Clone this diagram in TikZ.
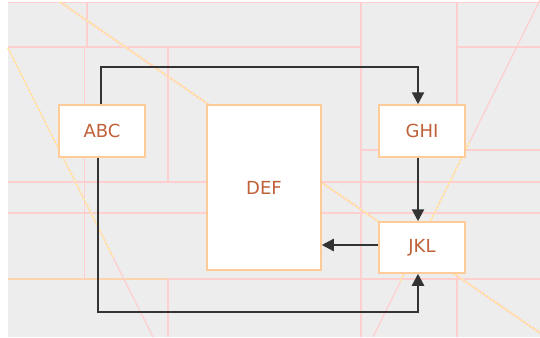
\documentclass[tikz,border=0pt]{standalone}
\usepackage{fontspec}
\setmainfont{DejaVu Sans}
\usetikzlibrary{arrows.meta}
\definecolor{bg}{HTML}{EDEDED}
\definecolor{grid}{HTML}{FFCFCF}
\definecolor{gridor}{HTML}{FFD3AE}
\definecolor{dotc}{HTML}{FFEDA0}
\definecolor{boxline}{HTML}{FFCC99}
\definecolor{txt}{HTML}{BF6139}
\definecolor{arr}{HTML}{333333}
\tikzset{
  gline/.style={draw=grid, line width=1.5pt},
  oline/.style={draw=gridor, line width=1.5pt},
  dotl/.style={draw=dotc, line width=2pt, dash pattern=on 2pt off 2pt},
  blk/.style={draw=boxline, line width=1.5pt, fill=white, inner sep=0pt, text=txt,
    font=\fontsize{18}{20}\selectfont},
  conn/.style={draw=arr, line width=2.3pt, -{Triangle[length=12pt,width=12pt]}},
}
\begin{document}
\begin{tikzpicture}[x=1pt,y=-1pt]
\useasboundingbox (0,0) rectangle (540,337);
\fill[bg] (8,2) rectangle (540,337);
% grid lines
\draw[gline] (8,2.5) -- (540,2.5);
\draw[gline] (8,47) -- (361,47);
\draw[gline] (457,47) -- (540,47);
\draw[gline] (8,182) -- (540,182);
\draw[gline] (8,213) -- (540,213);
\draw[gline] (168,279) -- (540,279);
\draw[oline] (8,279) -- (168,279);
\draw[gline, line width=2.5pt] (361,150) -- (540,150);
\draw[gline] (87,2) -- (87,47);
\draw[gline] (84.5,47) -- (84.5,279);
\draw[gline] (168,47) -- (168,182);
\draw[gline] (168,279) -- (168,337);
\draw[gline] (361,2) -- (361,337);
\draw[gline] (457,2) -- (457,150);
\draw[gline] (457,273) -- (457,337);
% diagonals
\draw[gline, line width=1.2pt] (8,48) -- (153,337);
\draw[dotl] (8,48) -- (113,257);
\draw[gline, line width=1.2pt] (540,0) -- (373,337);
\draw[dotl] (469,143) -- (400,282);
\draw[gline, line width=2pt] (60,2) -- (540,333);
\draw[dotl] (60,2) -- (540,333);
% boxes
\node[blk, minimum width=86pt, minimum height=52pt] (abc) at (102,131) {ABC};
\node[blk, minimum width=114pt, minimum height=165pt] (def) at (264,187.5) {DEF};
\node[blk, minimum width=86pt, minimum height=52pt] (ghi) at (422,131) {GHI};
\node[blk, minimum width=86pt, minimum height=51pt] (jkl) at (422,247.5) {JKL};
% connectors
\coordinate (c1) at (101,67);
\coordinate (c2) at (418,67);
\coordinate (c3) at (98,312);
\coordinate (c4) at (418,312);
\draw[conn] (abc.north -| c1) -- (c1) -- (c2) -- (ghi.north -| c2);
\draw[conn] (ghi.south -| c2) -- (jkl.north -| c2);
\draw[conn] ([yshift=2.5pt]jkl.west) -- ([yshift=2.5pt]jkl.west -| def.east);
\draw[conn] (abc.south -| c3) -- (c3) -- (c4) -- (jkl.south -| c4);
\end{tikzpicture}
\end{document}
